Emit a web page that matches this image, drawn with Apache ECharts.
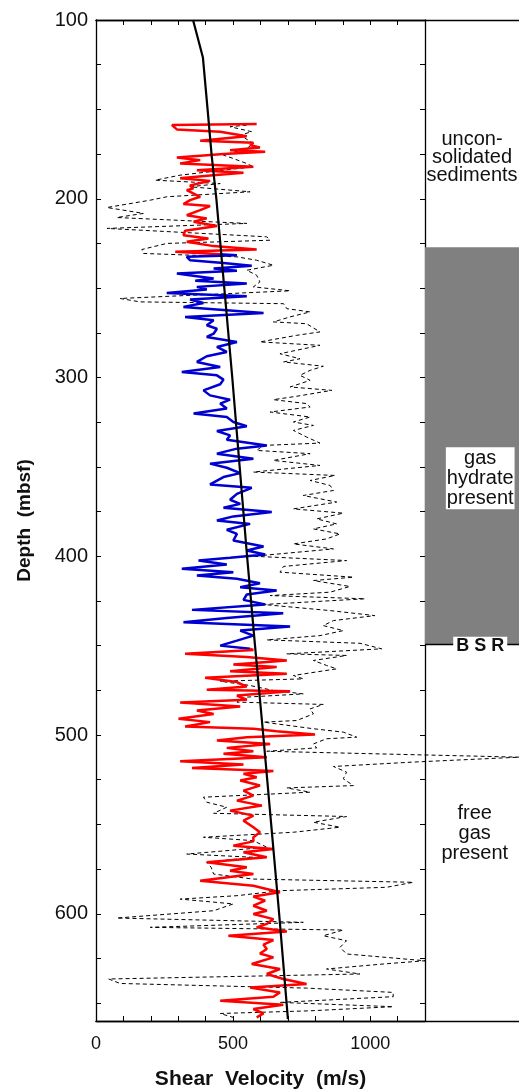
<!DOCTYPE html>
<html><head><meta charset="utf-8">
<script src="https://cdn.jsdelivr.net/npm/echarts@6/dist/echarts.min.js"></script>
<style>html,body{margin:0;padding:0;background:#fff}#c{width:519px;height:1089px}</style>
</head><body><div id="c"></div>
<script>
// [depth (mbsf), shear velocity (m/s)]
const trendLine = [[100,354],[121,390],[150,407],[176,422],[200,439],[250,468],[300,497],[350,524],[400,551],[450,580],[500,610],[550,639],[600,668],[659,700]];

const redUpper = [[158.2,586],[158.8,277],[161.2,295],[162.5,453],[165.0,550],[167.6,380],[168.7,574],[170.0,562],[171.3,598],[172.8,489],[173.7,617],[175.0,465],[176.9,295],[178.4,380],[180.3,307],[182.1,574],[184.0,368],[185.5,538],[187.0,416],[188.5,307],[190.0,416],[192.6,343],[194.2,355],[195.2,331],[198.9,380],[200.8,343],[203.0,319],[204.1,416],[206.4,380],[209.2,331],[211.0,404],[212.9,356],[215.3,441],[217.9,325],[220.4,319],[222.2,410],[224.1,331],[226.5,429],[228.4,586],[229.7,289],[231.0,453]];

const blueHydrate = [[231.0,453],[231.6,514],[232.5,331],[234.4,343],[235.9,465],[237.5,568],[239.0,429],[240.3,514],[241.8,295],[243.3,368],[244.6,429],[245.9,362],[247.4,550],[249.3,368],[250.8,404],[252.7,258],[254.6,550],[256.4,343],[258.3,392],[260.5,319],[263.9,611],[266.1,325],[268.0,429],[270.8,404],[272.7,441],[275.5,429],[277.3,404],[280.1,514],[282.9,441],[285.7,477],[288.1,404],[291.3,368],[294.1,453],[296.9,313],[298.8,441],[301.2,465],[303.8,453],[307.2,392],[310.0,416],[312.4,489],[314.6,453],[317.4,477],[320.2,356],[322.1,477],[324.9,501],[327.3,550],[329.9,441],[332.4,489],[334.8,477],[338.0,623],[339.8,514],[342.6,441],[345.4,574],[348.2,416],[350.5,477],[353.5,526],[355.7,465],[359.8,416],[361.7,568],[365.1,514],[368.4,489],[370.7,526],[372.9,465],[375.3,641],[377.7,501],[380.0,441],[381.9,562],[385.2,477],[387.5,514],[391.2,501],[394.5,611],[396.8,550],[399.0,617],[400.9,489],[402.4,374],[404.6,477],[407.0,313],[408.9,501],[410.8,368],[412.6,514],[415.1,598],[417.3,526],[419.2,659],[421.4,550],[424.4,538],[427.0,617],[430.0,350],[431.9,683],[434.5,477],[436.9,319],[439.3,708],[441.6,526],[444.4,574],[447.2,514],[450.0,453],[451.8,562]];

const redLower = [[451.8,562],[452.4,574],[454.6,325],[456.4,550],[458.3,696],[460.5,501],[462.0,659],[464.3,489],[465.8,696],[468.0,398],[470.4,514],[472.9,550],[474.7,404],[475.5,708],[477.9,514],[480.3,550],[481.8,307],[484.0,526],[486.3,368],[488.2,429],[490.9,301],[492.8,416],[495.2,325],[496.5,574],[497.9,659],[499.7,799],[501.2,550],[503.1,441],[505.0,635],[507.2,477],[509.1,574],[510.5,465],[512.4,623],[514.7,307],[516.5,538],[518.4,350],[520.2,647],[521.7,538],[523.6,586],[525.5,526],[528.3,598],[531.1,538],[533.9,574],[536.7,514],[539.5,605],[542.3,489],[545.1,574],[547.9,538],[551.6,574],[554.4,598],[557.2,574],[559.5,574],[561.9,501],[563.8,647],[565.6,538],[568.4,623],[571.2,404],[574.0,550],[575.9,489],[577.8,574],[581.5,380],[584.3,574],[588.0,671],[590.4,574],[592.7,617],[595.5,574],[598.3,623],[600.1,574],[603.0,647],[605.7,623],[607.6,586],[609.9,696],[612.3,483],[614.7,647],[617.3,611],[619.7,623],[622.2,598],[624.4,647],[628.1,568],[630.9,671],[633.7,623],[636.5,683],[639.3,768],[641.2,562],[644.0,671],[646.4,647],[648.7,453],[650.9,683],[653.3,574],[655.8,611],[658.0,586]];

const dashedLog = [[158.8,550],[159.7,489],[162.5,568],[164.4,526],[169.1,574],[171.9,550],[175.6,465],[177.5,501],[180.3,550],[182.1,574],[186.8,307],[189.6,216],[191.5,453],[193.3,343],[196.1,562],[198.9,258],[200.8,198],[204.9,40],[208.2,173],[210.5,76],[213.8,550],[216.6,40],[221.3,623],[223.2,635],[225.0,258],[228.4,167],[230.6,173],[232.5,514],[234.4,586],[237.2,647],[240.0,550],[242.8,586],[246.5,598],[249.3,574],[251.5,708],[255.8,88],[257.7,161],[258.7,684],[261.5,696],[263.3,781],[266.1,708],[268.9,647],[269.9,768],[274.5,817],[276.4,732],[280.1,598],[282.0,817],[286.7,671],[289.5,744],[291.3,684],[293.7,829],[296.0,781],[298.8,744],[301.6,781],[305.3,708],[307.2,860],[310.5,732],[312.4,647],[314.6,768],[316.5,781],[319.3,635],[322.1,781],[324.9,720],[326.8,793],[329.6,720],[333.3,768],[336.7,817],[338.0,611],[340.8,586],[342.6,781],[346.4,647],[349.2,817],[352.9,574],[354.8,872],[357.6,781],[360.4,854],[363.2,866],[366.0,756],[369.7,878],[373.5,720],[375.9,902],[379.1,805],[381.9,878],[384.7,793],[387.5,890],[390.3,841],[393.1,720],[395.9,866],[400.0,574],[402.4,914],[405.7,684],[408.9,671],[411.7,939],[413.6,793],[416.9,926],[420.1,854],[422.0,635],[423.8,981],[427.0,611],[430.4,854],[433.2,1017],[436.0,866],[438.8,829],[441.6,902],[444.4,817],[446.8,623],[448.7,963],[451.8,1042],[454.6,696],[455.5,914],[458.3,793],[461.1,841],[463.0,878],[466.7,720],[468.6,756],[469.9,453],[472.3,562],[475.1,647],[477.0,756],[478.8,550],[481.6,514],[482.9,829],[485.4,781],[488.2,793],[491.9,732],[492.8,611],[496.5,793],[498.4,902],[501.2,951],[502.1,841],[505.0,793],[507.2,805],[509.1,623],[512.4,1545],[515.2,1150],[517.6,866],[520.8,914],[524.5,902],[528.3,939],[529.6,696],[532.0,781],[534.8,392],[537.6,404],[540.4,477],[543.8,429],[545.6,914],[548.8,793],[551.6,890],[554.4,720],[557.2,392],[559.1,574],[562.8,623],[566.6,331],[568.4,574],[571.2,404],[574.0,420],[577.8,429],[580.6,574],[582.4,1157],[585.2,1060],[587.1,671],[589.9,514],[591.8,307],[594.5,501],[598.3,429],[602.4,76],[604.8,756],[607.6,198],[609.1,902],[612.3,829],[615.1,914],[618.8,890],[622.5,914],[626.3,1200],[628.1,1048],[630.9,841],[633.7,963],[636.5,46],[639.0,88],[641.6,768],[644.0,1084],[646.4,1084],[649.6,671],[652.0,1084],[654.3,781],[655.8,453],[658.0,501]];

const xTickLabels = [0, 500, 1000];
const yTickLabels = [100, 200, 300, 400, 500, 600];
const hydrateTop = 227.1, bsrDepth = 449.4, panelStart = 1200;

const FONT = '"Liberation Sans", Arial, Helvetica, sans-serif';
const toXY = a => a.map(d => [d[1], d[0]]);
const panelMax = 1200 * (519 - 96) / (425 - 96);

const chart = echarts.init(document.getElementById('c'));
const axisLine = {show: true, onZero: false, lineStyle: {color: '#000', width: 1.3}};
const tick = {show: true, inside: true, length: 5, lineStyle: {color: '#000', width: 1}};

chart.setOption({
  animation: false,
  grid: [
    {left: 96, right: 94, top: 20, bottom: 68, outerBoundsMode: 'none', containLabel: false},
    {left: 96, right: 0, top: 20, bottom: 68, outerBoundsMode: 'none', containLabel: false}
  ],
  xAxis: [
    {gridIndex: 0, type: 'value', min: 0, max: 1200, interval: 100, position: 'bottom',
     axisLine, axisTick: tick, splitLine: {show: false},
     axisLabel: {formatter: v => xTickLabels.includes(v) ? String(v) : '', fontSize: 18, color: '#111', margin: 14, fontFamily: FONT},
     name: 'Shear  Velocity  (m/s)', nameLocation: 'middle', nameGap: 48,
     nameTextStyle: {fontSize: 21, fontWeight: 'bold', color: '#111', fontFamily: FONT}},
    {gridIndex: 0, type: 'value', min: 0, max: 1200, interval: 100, position: 'top',
     axisLine, axisTick: tick, axisLabel: {show: false}, splitLine: {show: false}},
    {gridIndex: 1, type: 'value', min: 0, max: panelMax, position: 'bottom',
     axisLine, axisTick: {show: false}, axisLabel: {show: false}, splitLine: {show: false}},
    {gridIndex: 1, type: 'value', min: 0, max: panelMax, position: 'top',
     axisLine, axisTick: {show: false}, axisLabel: {show: false}, splitLine: {show: false}}
  ],
  yAxis: [
    {gridIndex: 0, type: 'value', inverse: true, min: 100, max: 660, interval: 25, position: 'left',
     axisLine, axisTick: tick, splitLine: {show: false},
     axisLabel: {formatter: v => yTickLabels.includes(v) ? String(v) : '', fontSize: 20, color: '#111', margin: 8, fontFamily: FONT},
     name: 'Depth  (mbsf)', nameLocation: 'middle', nameGap: 62, nameRotate: 90,
     nameTextStyle: {fontSize: 19, fontWeight: 'bold', color: '#111', fontFamily: FONT}},
    {gridIndex: 0, type: 'value', inverse: true, min: 100, max: 660, interval: 25, position: 'right',
     axisLine, axisTick: tick, axisLabel: {show: false}, splitLine: {show: false}},
    {gridIndex: 1, type: 'value', inverse: true, min: 100, max: 660, show: false}
  ],
  series: [
    {type: 'line', name: 'panel', xAxisIndex: 2, yAxisIndex: 2, data: [], silent: true,
     markArea: {silent: true, itemStyle: {color: '#808080'},
       data: [[{coord: [panelStart, hydrateTop]}, {coord: [panelMax, bsrDepth]}]]},
     markLine: {silent: true, symbol: 'none', label: {show: false}, lineStyle: {color: '#000', width: 1.3, type: 'solid'},
       data: [[{coord: [panelStart, bsrDepth]}, {coord: [panelMax, bsrDepth]}]]}},
    {type: 'line', name: 'dashed', xAxisIndex: 2, yAxisIndex: 2, data: toXY(dashedLog), symbol: 'none',
     lineStyle: {color: '#000', width: 1, type: [4, 3]}},
    {type: 'line', name: 'redUpper', xAxisIndex: 0, yAxisIndex: 0, data: toXY(redUpper), symbol: 'none',
     lineStyle: {color: '#ff0000', width: 2.5}},
    {type: 'line', name: 'blue', xAxisIndex: 0, yAxisIndex: 0, data: toXY(blueHydrate), symbol: 'none',
     lineStyle: {color: '#0000d0', width: 2.5}},
    {type: 'line', name: 'redLower', xAxisIndex: 0, yAxisIndex: 0, data: toXY(redLower), symbol: 'none',
     lineStyle: {color: '#ff0000', width: 2.5}},
    {type: 'line', name: 'trend', xAxisIndex: 0, yAxisIndex: 0, data: toXY(trendLine), symbol: 'none',
     lineStyle: {color: '#000', width: 2.2}}
  ]
});

const panelMid = (panelStart + panelMax) / 2;
const px = (v, d) => chart.convertToPixel({xAxisIndex: 2, yAxisIndex: 2}, [v, d]);
const txt = (v, d, text, extra) => {
  const p = px(v, d);
  return Object.assign({type: 'text', x: p[0], y: p[1], z: 100, silent: true,
    style: Object.assign({text, fontSize: 20, fontFamily: FONT, fill: '#111', align: 'center', verticalAlign: 'middle', lineHeight: 18}, extra || {})});
};
chart.setOption({graphic: [
  txt(panelMid, 176.7, 'uncon-\nsolidated\nsediments'),
  txt(panelMid + 30, 356.4, 'gas\nhydrate\npresent', {backgroundColor: '#fff', padding: [1, 1, 1, 1], lineHeight: 20}),
  txt(panelMid + 30, bsrDepth + 0.6, 'B S R', {fontWeight: 'bold', fontSize: 18, backgroundColor: '#fff', padding: [0, 3]}),
  txt(panelMid + 10, 555.2, 'free\ngas\npresent', {lineHeight: 20})
]});
</script></body></html>
